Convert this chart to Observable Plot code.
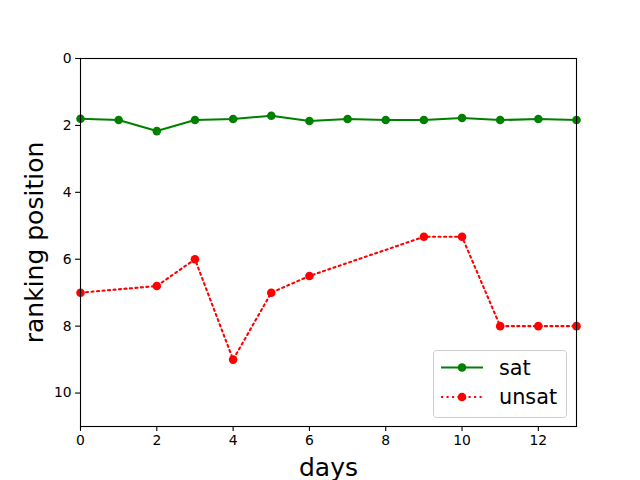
<!DOCTYPE html>
<html>
<head>
<meta charset="utf-8">
<script src="https://cdn.jsdelivr.net/npm/d3@7"></script>
<script src="https://cdn.jsdelivr.net/npm/@observablehq/plot@0.6"></script>
<style>
  html, body { margin: 0; padding: 0; background: #fff; }
  #chart { width: 640px; height: 480px; }
</style>
</head>
<body>
<div id="chart"></div>
<script>
const satDays = [0, 1, 2, 3, 4, 5, 6, 7, 8, 9, 10, 11, 12, 13];
const satRank = [1.8, 1.84, 2.17, 1.84, 1.81, 1.71, 1.87, 1.81, 1.84, 1.84, 1.78, 1.84, 1.81, 1.84];
const unsatDays = [0, 2, 3, 4, 5, 6, 9, 10, 11, 12, 13];
const unsatRank = [7, 6.8, 6, 9, 7, 6.5, 5.33, 5.33, 8, 8, 8];
const xTicks = [0, 2, 4, 6, 8, 10, 12];
const yTicks = [0, 2, 4, 6, 8, 10];
const seriesNames = ["sat", "unsat"];

const sat = satDays.map((d, i) => ({day: d, rank: satRank[i]}));
const unsat = unsatDays.map((d, i) => ({day: d, rank: unsatRank[i]}));

const lw = 2.08;
const chart = Plot.plot({
  width: 640,
  height: 480,
  marginLeft: 80,
  marginRight: 64,
  marginTop: 58,
  marginBottom: 54,
  style: {fontFamily: "DejaVu Sans", color: "black", background: "white", overflow: "visible"},
  x: {domain: [0, 13], ticks: xTicks, label: null},
  y: {domain: [0, 11], reverse: true, ticks: yTicks, label: null},
  marks: [
    Plot.axisX(xTicks, {tickSize: 4.9, tickPadding: 4, fontSize: 13.9, strokeWidth: 1.1, label: null}),
    Plot.axisY(yTicks, {tickSize: 4.9, tickPadding: 4, fontSize: 13.9, strokeWidth: 1.1, label: null}),
    Plot.lineY(sat, {x: "day", y: "rank", stroke: "green", strokeWidth: lw}),
    Plot.dot(sat, {x: "day", y: "rank", r: 4.3, fill: "green", stroke: "none"}),
    Plot.lineY(unsat, {x: "day", y: "rank", stroke: "red", strokeWidth: lw, strokeDasharray: "2.08,3.43"}),
    Plot.dot(unsat, {x: "day", y: "rank", r: 4.3, fill: "red", stroke: "none"}),
    Plot.frame({stroke: "black", strokeWidth: 1.1}),
    Plot.text(["days"], {frameAnchor: "bottom", textAnchor: "middle", lineAnchor: "middle", dy: 41, fontSize: 25, fill: "black"}),
    Plot.text(["ranking position"], {frameAnchor: "left", textAnchor: "middle", lineAnchor: "middle", rotate: -90, dx: -46, fontSize: 25, fill: "black"})
  ]
});
document.getElementById("chart").appendChild(chart);

// legend (inside lower right of the frame)
const svg = d3.select(chart);
const lg = svg.append("g").attr("font-family", "DejaVu Sans").attr("text-anchor", "start");
lg.append("rect")
  .attr("x", 433.5).attr("y", 350.5).attr("width", 133).attr("height", 67)
  .attr("rx", 3).attr("ry", 3)
  .attr("fill", "white").attr("fill-opacity", 0.8)
  .attr("stroke", "#cccccc").attr("stroke-width", 1);
const styles = [
  {color: "green", dash: null, y: 367.5},
  {color: "red", dash: "2.08,3.43", y: 397}
];
seriesNames.forEach((name, i) => {
  const s = styles[i];
  const line = lg.append("line")
    .attr("x1", 441).attr("x2", 483).attr("y1", s.y).attr("y2", s.y)
    .attr("stroke", s.color).attr("stroke-width", lw);
  if (s.dash) line.attr("stroke-dasharray", s.dash);
  lg.append("circle").attr("cx", 462).attr("cy", s.y).attr("r", 4.3).attr("fill", s.color);
  lg.append("text").attr("x", 499).attr("y", s.y + 7)
    .attr("text-anchor", "start")
    .attr("font-size", 20.8).attr("fill", "black").text(name);
});
</script>
</body>
</html>
